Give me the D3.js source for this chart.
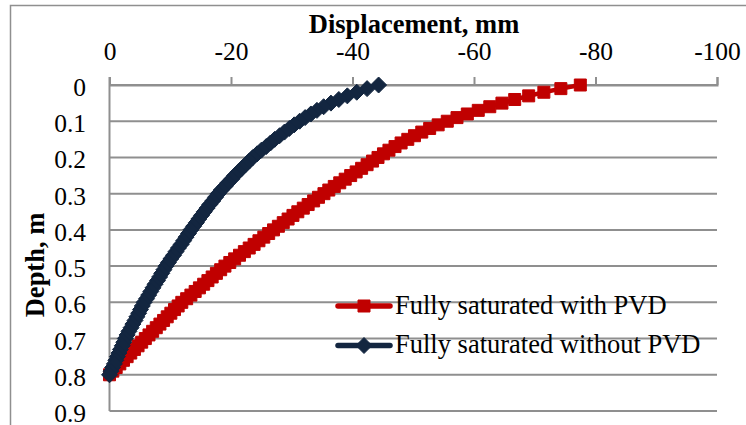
<!DOCTYPE html>
<html>
<head>
<meta charset="utf-8">
<script src="https://cdn.jsdelivr.net/npm/d3@7/dist/d3.min.js"></script>
<style>
  body { margin: 0; background: #fff; }
  svg { display: block; font-family: "Liberation Serif", "Times New Roman", serif; }
</style>
</head>
<body>
<svg id="chart" width="746" height="425"></svg>
<script>
// depth below surface, m
const depths = [
  0.00, 0.01, 0.02, 0.03, 0.04, 0.05, 0.06, 0.07, 0.08, 0.09,
  0.10, 0.11, 0.12, 0.13, 0.14, 0.15, 0.16, 0.17, 0.18, 0.19,
  0.20, 0.21, 0.22, 0.23, 0.24, 0.25, 0.26, 0.27, 0.28, 0.29,
  0.30, 0.31, 0.32, 0.33, 0.34, 0.35, 0.36, 0.37, 0.38, 0.39,
  0.40, 0.41, 0.42, 0.43, 0.44, 0.45, 0.46, 0.47, 0.48, 0.49,
  0.50, 0.51, 0.52, 0.53, 0.54, 0.55, 0.56, 0.57, 0.58, 0.59,
  0.60, 0.61, 0.62, 0.63, 0.64, 0.65, 0.66, 0.67, 0.68, 0.69,
  0.70, 0.71, 0.72, 0.73, 0.74, 0.75, 0.76, 0.77, 0.78, 0.79,
  0.80
];
// displacement, mm - fully saturated with PVD
const withPVD = [
  -77.5, -74.3, -71.5, -69.0, -66.7, -64.6, -62.6, -60.7, -58.9, -57.2,
  -55.6, -54.1, -52.7, -51.4, -50.2, -49.1, -48.0, -47.0, -46.0, -45.1,
  -44.2, -43.3, -42.4, -41.5, -40.6, -39.7, -38.8, -37.9, -37.0, -36.1,
  -35.3, -34.4, -33.6, -32.7, -31.9, -31.0, -30.2, -29.4, -28.6, -27.8,
  -27.0, -26.2, -25.4, -24.6, -23.8, -23.0, -22.2, -21.4, -20.6, -19.8,
  -19.0, -18.3, -17.6, -16.9, -16.2, -15.5, -14.8, -14.1, -13.4, -12.7,
  -11.9, -11.3, -10.7, -10.1, -9.5, -8.9, -8.3, -7.7, -7.1, -6.5,
  -5.9, -5.3, -4.7, -4.1, -3.5, -2.9, -2.3, -1.7, -1.1, -0.55,
  0
];
// displacement, mm - fully saturated without PVD
const withoutPVD = [
  -44.3, -42.4, -40.7, -39.15, -37.75, -36.45, -35.25, -34.15, -33.15, -32.2,
  -31.3, -30.4, -29.6, -28.8, -28.0, -27.2, -26.5, -25.8, -25.0, -24.3,
  -23.6, -23.0, -22.4, -21.8, -21.2, -20.6, -20.1, -19.5, -19.0, -18.4,
  -17.9, -17.45, -17.0, -16.5, -16.05, -15.6, -15.15, -14.7, -14.3, -13.85,
  -13.4, -13.0, -12.6, -12.2, -11.8, -11.35, -10.95, -10.55, -10.1, -9.7,
  -9.3, -8.95, -8.6, -8.25, -7.9, -7.5, -7.15, -6.8, -6.45, -6.1,
  -5.7, -5.4, -5.1, -4.8, -4.5, -4.2, -3.85, -3.55, -3.2, -2.9,
  -2.6, -2.35, -2.1, -1.8, -1.55, -1.3, -1.05, -0.8, -0.5, -0.25,
  0
];
const seriesNames = ["Fully saturated with PVD", "Fully saturated without PVD"];
const xTicks = [0, -20, -40, -60, -80, -100];
const yTicks = [0, 0.1, 0.2, 0.3, 0.4, 0.5, 0.6, 0.7, 0.8, 0.9];

const RED = "#c00000", NAVY = "#132640", GRID = "#8f8f8f";

const svg = d3.select("#chart");
const plot = {left: 109.5, right: 717, top: 85, bottom: 411};

const x = d3.scaleLinear().domain([0, -100]).range([plot.left, plot.right]);
const y = d3.scaleLinear().domain([0, 0.9]).range([plot.top, plot.bottom]);

// chart frame (only left & top edges are inside the picture)
svg.append("path")
  .attr("d", "M10.5,430 L10.5,5.5 L750,5.5")
  .attr("fill", "none")
  .attr("stroke", GRID)
  .attr("stroke-width", 1.5);

// horizontal gridlines
svg.append("g")
  .selectAll("line")
  .data(yTicks)
  .join("line")
  .attr("x1", plot.left)
  .attr("x2", plot.right)
  .attr("y1", d => y(d))
  .attr("y2", d => y(d))
  .attr("stroke", GRID)
  .attr("stroke-width", 2);

// x axis on top
const gx = svg.append("g")
  .attr("transform", `translate(0,${plot.top})`)
  .call(d3.axisTop(x).tickValues(xTicks).tickSize(8).tickPadding(17)
    .tickFormat(d => String(d)));
gx.select(".domain").attr("stroke", GRID).attr("stroke-width", 2);
gx.selectAll(".tick line").attr("stroke", GRID).attr("stroke-width", 2);
gx.selectAll(".tick text")
  .attr("font-family", "Liberation Serif")
  .attr("font-size", 25.5)
  .attr("fill", "#000");

// y axis on left
const gy = svg.append("g")
  .attr("transform", `translate(${plot.left},0)`)
  .call(d3.axisLeft(y).tickValues(yTicks).tickSize(0).tickPadding(23.5)
    .tickFormat(d => String(d)));
gy.select(".domain").remove();
gy.selectAll(".tick text")
  .attr("font-family", "Liberation Serif")
  .attr("font-size", 25.5)
  .attr("dy", "0.41em")
  .attr("fill", "#000");
svg.append("line")
  .attr("x1", plot.left).attr("x2", plot.left)
  .attr("y1", plot.top - 8).attr("y2", plot.bottom)
  .attr("stroke", GRID)
  .attr("stroke-width", 2);

// axis titles
svg.append("text")
  .attr("x", 414)
  .attr("y", 33)
  .attr("text-anchor", "middle")
  .attr("font-weight", "bold")
  .attr("font-size", 26.5)
  .text("Displacement, mm");
svg.append("text")
  .attr("transform", "translate(44,265) rotate(-90)")
  .attr("text-anchor", "middle")
  .attr("font-weight", "bold")
  .attr("font-size", 26.5)
  .text("Depth, m");

// markers
const sq = 12, dm = 8;
const squarePath = `M${-sq / 2},${-sq / 2}h${sq}v${sq}h${-sq}Z`;
const diamondPath = `M0,${-dm}L${dm},0L0,${dm}L${-dm},0Z`;

const line = d3.line()
  .x(d => x(d[0]))
  .y(d => y(d[1]));

const series = [
  {name: seriesNames[0], values: withPVD, color: RED, marker: squarePath},
  {name: seriesNames[1], values: withoutPVD, color: NAVY, marker: diamondPath}
];

series.forEach(s => {
  const pts = s.values.map((v, i) => [v, depths[i]]);
  const g = svg.append("g");
  g.append("path")
    .attr("d", line(pts))
    .attr("fill", "none")
    .attr("stroke", s.color)
    .attr("stroke-width", 4.5)
    .attr("stroke-linejoin", "round");
  g.selectAll("path.m")
    .data(pts)
    .join("path")
    .attr("class", "m")
    .attr("d", s.marker)
    .attr("transform", d => `translate(${x(d[0])},${y(d[1])})`)
    .attr("fill", s.color)
    .attr("stroke", s.color)
    .attr("stroke-width", 1);
});

// legend
const legend = svg.append("g");
series.forEach((s, i) => {
  const ly = 306 + i * 39.5;
  legend.append("line")
    .attr("x1", 338).attr("x2", 390)
    .attr("y1", ly).attr("y2", ly)
    .attr("stroke", s.color)
    .attr("stroke-width", 5.5)
    .attr("stroke-linecap", "round");
  legend.append("path")
    .attr("d", s.marker)
    .attr("transform", `translate(364,${ly})`)
    .attr("fill", s.color)
    .attr("stroke", s.color);
  legend.append("text")
    .attr("x", 395)
    .attr("y", ly + 7.5)
    .attr("font-size", 26.5)
    .text(s.name);
});
</script>
</body>
</html>
